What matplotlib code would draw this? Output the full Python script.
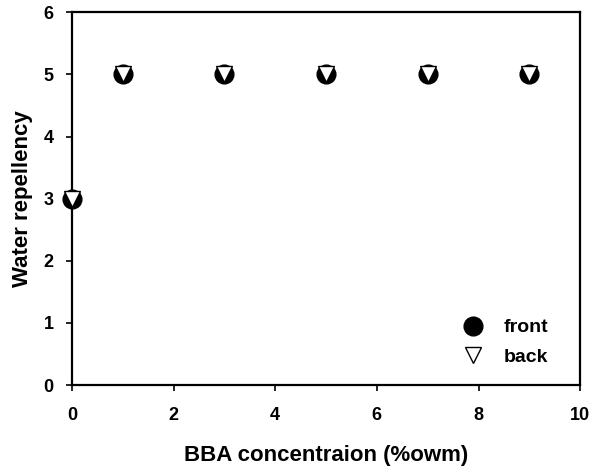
import matplotlib
matplotlib.use("Agg")
import matplotlib.pyplot as plt

conc = [0, 1, 3, 5, 7, 9]
front = [3, 5, 5, 5, 5, 5]
back = [3, 5, 5, 5, 5, 5]

plt.rcParams['font.family'] = ['Liberation Sans', 'DejaVu Sans']
plt.rcParams['font.weight'] = 'bold'

fig = plt.figure(figsize=(5.89, 4.68), dpi=100)
ax = fig.add_axes([0.122, 0.177, 0.863, 0.797])
ax.plot(conc, front, 'o', color='black', markersize=13.5, label='front', clip_on=False, zorder=3)
ax.plot(conc, back, 'v', markerfacecolor='white', markeredgecolor='black', markersize=11.5,
        markeredgewidth=1, label='back', clip_on=False, zorder=4)
ax.set_xlim(0, 10)
ax.set_ylim(0, 6)
ax.set_xticks([0, 2, 4, 6, 8, 10])
ax.set_yticks([0, 1, 2, 3, 4, 5, 6])
for s in ax.spines.values():
    s.set_linewidth(1.6)
ax.tick_params(direction='out', length=4, width=1.2, labelsize=13)
ax.tick_params(axis='x', pad=12)
ax.tick_params(axis='y', pad=9)
for lab in ax.get_xticklabels() + ax.get_yticklabels():
    lab.set_fontweight('bold')
ax.set_xlabel('BBA concentraion (%owm)', fontsize=16, fontweight='bold', labelpad=15)
ax.set_ylabel('Water repellency', fontsize=16, fontweight='bold', labelpad=8)
ax.legend(loc='center left', frameon=False, fontsize=14, handletextpad=0.6,
          bbox_to_anchor=(0.716, 0.115), labelspacing=0.6)
fig.savefig('out.png', dpi=100)
